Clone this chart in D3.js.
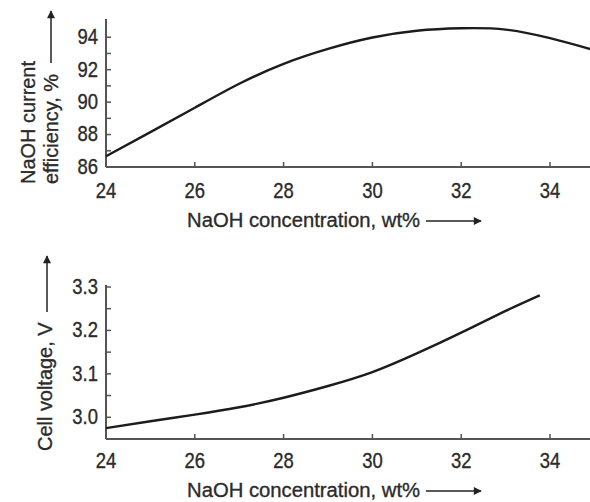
<!DOCTYPE html>
<html>
<head>
<meta charset="utf-8">
<script src="https://cdn.jsdelivr.net/npm/d3@7"></script>
<style>
  body { margin: 0; background: #fff; }
  svg text { font-family: "Liberation Sans", Arial, sans-serif; fill: #2b2b2b; stroke: #2b2b2b; stroke-width: 0.35px; }
</style>
</head>
<body>
<div id="chart"></div>
<script>
// data
var conc = [24, 25, 26, 27, 28, 29, 30, 31, 32, 33, 34, 35]
var efficiency = [86.66, 88.15, 89.65, 91.13, 92.36, 93.28, 93.98, 94.4, 94.55, 94.47, 93.94, 93.2]
var voltConc = [24, 25, 26, 27, 28, 29, 30, 31, 32, 33, 33.77]
var voltage = [2.975, 2.991, 3.006, 3.023, 3.045, 3.072, 3.104, 3.147, 3.195, 3.245, 3.281]
var xTicks = [24, 26, 28, 30, 32, 34]
var effTicks = [86, 88, 90, 92, 94]
var voltTicks = [3.0, 3.1, 3.2, 3.3]

var width = 590, height = 502
var svg = d3.select('#chart').append('svg')
    .attr('width', width).attr('height', height)

svg.append('defs').append('marker')
    .attr('id', 'arrow')
    .attr('viewBox', '0 0 10 10')
    .attr('refX', 9).attr('refY', 5)
    .attr('markerWidth', 12).attr('markerHeight', 8)
    .attr('markerUnits', 'userSpaceOnUse')
    .attr('orient', 'auto')
    .append('path')
    .attr('d', 'M0,0 L10,5 L0,10 Z')
    .attr('fill', '#222')

// text helper: the original lettering is a bit narrow, so squeeze it horizontally
function label(g, x, y, str, o) {
    o = o || {}
    var t = g.append('text')
        .attr('transform', 'translate(' + x + ',' + y + ')' + (o.rotate ? ' rotate(' + o.rotate + ')' : '') +
            ' scale(' + (o.sx || 1) + ',1)')
        .attr('text-anchor', o.anchor || 'start')
        .style('font-size', (o.size || 21) + 'px')
        .text(str)
    if (o.dy) t.attr('dy', o.dy)
    return t
}

// shared x scale
var x = d3.scaleLinear().domain([24, 34]).range([106, 550])

function panel(opts) {
    var g = svg.append('g')
    var y = d3.scaleLinear().domain(opts.yDomain).range(opts.yRange)
    var x0 = x(24), yb = opts.yRange[0], yt = opts.yRange[1]

    // axis lines
    g.append('line').attr('x1', x0).attr('x2', x0).attr('y1', yb).attr('y2', yt - 2)
        .attr('stroke', '#555').attr('stroke-width', 2)
    g.append('line').attr('x1', x0).attr('x2', width).attr('y1', yb).attr('y2', yb)
        .attr('stroke', '#555').attr('stroke-width', 2)

    // y ticks (inward), minor ones included
    g.selectAll('.ytick').data(opts.yMinor).enter().append('line')
        .attr('x1', x0).attr('x2', x0 + 5)
        .attr('y1', function (d) { return y(d) }).attr('y2', function (d) { return y(d) })
        .attr('stroke', '#555').attr('stroke-width', 1.5)
    opts.yTicks.forEach(function (d) {
        label(g, 98, y(d) - 1, opts.yFormat(d), { anchor: 'end', size: 22, sx: 0.84, dy: '0.36em' })
    })

    // x ticks
    g.selectAll('.xtick').data(xTicks.slice(1)).enter().append('line')
        .attr('x1', function (d) { return x(d) }).attr('x2', function (d) { return x(d) })
        .attr('y1', yb).attr('y2', yb - 5)
        .attr('stroke', '#555').attr('stroke-width', 1.5)
    xTicks.forEach(function (d) {
        label(g, x(d), yb + opts.xLabOff, d, { anchor: 'middle', size: 22, sx: 0.84 })
    })

    // x title + arrow
    label(g, 187, yb + opts.xTitleOff, 'NaOH concentration, wt%', { size: 21, sx: 0.965 })
    g.append('line').attr('x1', 426).attr('x2', 481)
        .attr('y1', yb + opts.xTitleOff - 6).attr('y2', yb + opts.xTitleOff - 6)
        .attr('stroke', '#222').attr('stroke-width', 1.5)
        .attr('marker-end', 'url(#arrow)')

    // y title lines + arrow
    opts.yLabel.forEach(function (t) {
        label(g, t.x, opts.labelStart, t.text, { rotate: -90, size: 21, sx: 0.95 })
    })
    g.append('line').attr('x1', opts.arrow.x).attr('x2', opts.arrow.x)
        .attr('y1', opts.arrow.y1).attr('y2', opts.arrow.y2)
        .attr('stroke', '#222').attr('stroke-width', 1.5)
        .attr('marker-end', 'url(#arrow)')

    // curve
    var line = d3.line()
        .x(function (d) { return x(d[0]) })
        .y(function (d) { return y(d[1]) })
        .curve(d3.curveNatural)
    g.append('path')
        .datum(d3.zip(opts.xs, opts.ys))
        .attr('d', line)
        .attr('fill', 'none')
        .attr('stroke', '#1c1c1c')
        .attr('stroke-width', 2.4)
}

panel({
    yDomain: [86, 95], yRange: [167, 21],
    yTicks: effTicks, yMinor: d3.range(87, 95, 1),
    yFormat: function (d) { return d },
    xs: conc, ys: efficiency,
    xLabOff: 31, xTitleOff: 60,
    labelStart: 184,
    yLabel: [{ x: 35, text: 'NaOH current' }, { x: 58, text: 'efficiency, %' }],
    arrow: { x: 51, y1: 63, y2: 11 }
})

panel({
    yDomain: [2.95, 3.3], yRange: [439, 287],
    yTicks: voltTicks, yMinor: [3.0, 3.05, 3.1, 3.15, 3.2, 3.25, 3.3],
    yFormat: function (d) { return d.toFixed(1) },
    xs: voltConc, ys: voltage,
    xLabOff: 29, xTitleOff: 58,
    labelStart: 451,
    yLabel: [{ x: 52, text: 'Cell voltage, V' }],
    arrow: { x: 47, y1: 312, y2: 256 }
})
</script>
</body>
</html>
